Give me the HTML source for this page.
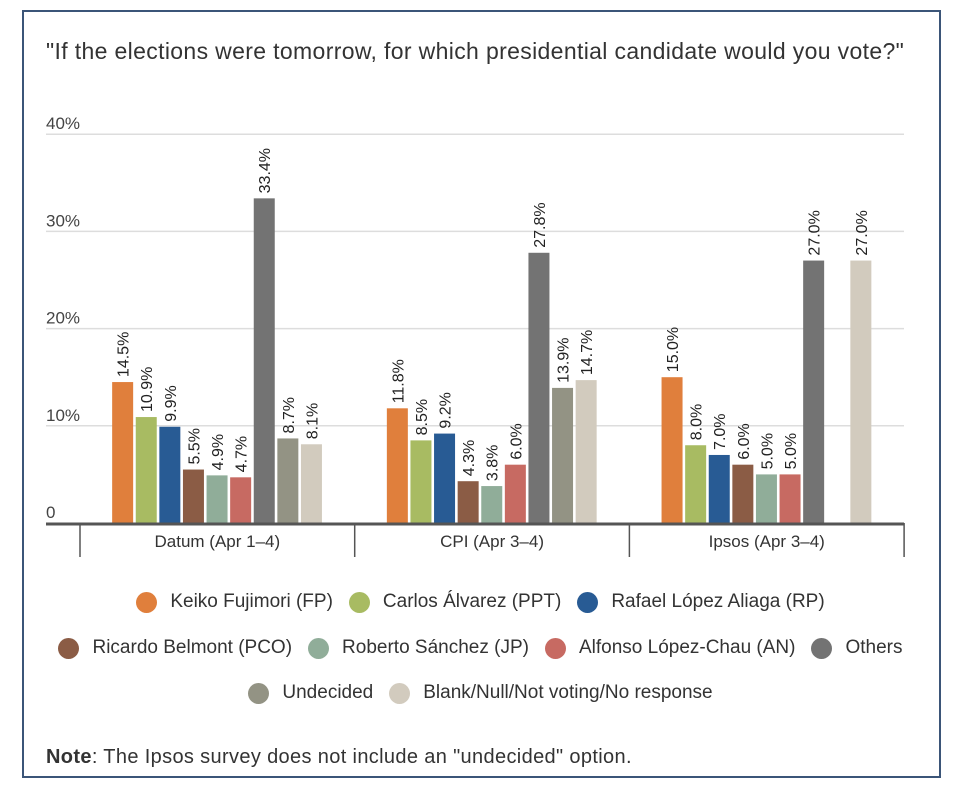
<!DOCTYPE html>
<html><head><meta charset="utf-8"><style>
body{margin:0;width:954px;height:786px;background:#fff;font-family:"Liberation Sans",sans-serif;overflow:hidden}
#frame{position:absolute;left:22px;top:10px;width:915px;height:764px;border:2px solid #3b5578;box-sizing:content-box}
#title{position:absolute;left:46px;top:38px;font-size:23px;color:#333;white-space:nowrap;letter-spacing:0.35px}
.row{position:absolute;left:22px;width:917px;display:flex;justify-content:center;align-items:center;font-size:19px;color:#333}
.item{display:flex;align-items:center;margin:0 8px}
.dot{width:21px;height:21px;border-radius:50%;margin-right:13px}
#note{position:absolute;left:46px;top:746px;font-size:20px;color:#333;letter-spacing:0.35px}
</style></head><body>
<div id="frame"></div>
<div id="title">"If the elections were tomorrow, for which presidential candidate would you vote?"</div>
<svg id="chart" width="954" height="786" style="position:absolute;left:0;top:0"></svg>
<div class="row" style="top:591px"></div>
<div class="row" style="top:637px"></div>
<div class="row" style="top:682px"></div>
<div id="note"><b>Note</b>: The Ipsos survey does not include an "undecided" option.</div>
<script>
const categories=["Datum (Apr 1–4)","CPI (Apr 3–4)","Ipsos (Apr 3–4)"];
const seriesNames=["Keiko Fujimori (FP)","Carlos Álvarez (PPT)","Rafael López Aliaga (RP)","Ricardo Belmont (PCO)","Roberto Sánchez (JP)","Alfonso López-Chau (AN)","Others","Undecided","Blank/Null/Not voting/No response"];
const colors=["#e07f3c","#a8bb62","#285b94","#8b5c45","#90ad99","#c76a62","#737373","#939384","#d2cbbe"];
const datum=[14.5,10.9,9.9,5.5,4.9,4.7,33.4,8.7,8.1];
const cpi=[11.8,8.5,9.2,4.3,3.8,6.0,27.8,13.9,14.7];
const ipsos=[15.0,8.0,7.0,6.0,5.0,5.0,27.0,null,27.0];
const values=[datum,cpi,ipsos];
const yTicks=[0,10,20,30,40];
const yTickLabels=["0","10%","20%","30%","40%"];

const NS="http://www.w3.org/2000/svg";
const svg=document.getElementById('chart');
const y0=523,pxPer=9.72,plotL=46,plotR=904,groupL=80,groupW=274.7;
const y=v=>y0-v*pxPer;
function mk(t,a){const e=document.createElementNS(NS,t);for(const k in a)e.setAttribute(k,a[k]);svg.appendChild(e);return e;}
yTicks.forEach((t,i)=>{
  if(t>0){const g=mk('line',{x1:plotL,x2:plotR,y1:y(t),y2:y(t),stroke:'#ddd','stroke-width':1.5});
  
  }
  const l=mk('text',{x:plotL,y:y(t)-5,'font-size':17,fill:'#444','font-family':'Liberation Sans, sans-serif'});
  l.textContent=yTickLabels[i];
  
  
});
const barStep=23.6,barW=21;
categories.forEach((c,gi)=>{
  const cx=groupL+groupW*(gi+0.5);
  const start=cx-barStep*(values[gi].length)/2;
  values[gi].forEach((v,si)=>{
    if(v===null)return;
    const x=start+si*barStep+1;
    const r=mk('rect',{x:x,y:y(v),width:barW,height:v*pxPer,fill:colors[si]});
    
    
    const tx=x+barW/2+6,ty=y(v)-5;
    const t=mk('text',{x:tx,y:ty,transform:`rotate(-90 ${tx} ${ty})`,'font-size':16,fill:'#222','font-family':'Liberation Sans, sans-serif'});
    t.textContent=v.toFixed(1)+'%';
    
    
  });
  const lab=mk('text',{x:cx,y:547,'text-anchor':'middle','font-size':17,fill:'#333','font-family':'Liberation Sans, sans-serif'});
  lab.textContent=c;
  
  
});
for(let i=0;i<=3;i++){const s=mk('line',{x1:groupL+groupW*i,x2:groupL+groupW*i,y1:y0,y2:557,stroke:'#555','stroke-width':1.5});

}
const ax=mk('line',{x1:plotL,x2:plotR,y1:y0+1,y2:y0+1,stroke:'#555','stroke-width':3});


const rows=document.querySelectorAll('.row');
const rowIdx=[[0,1,2],[3,4,5,6],[7,8]];
rowIdx.forEach((idxs,ri)=>idxs.forEach(si=>{
  const it=document.createElement('div');it.className='item';
  
  
  it.innerHTML=`<span class="dot" style="background:${colors[si]}"></span><span>${seriesNames[si]}</span>`;
  rows[ri].appendChild(it);
}));
</script>
</body></html>
